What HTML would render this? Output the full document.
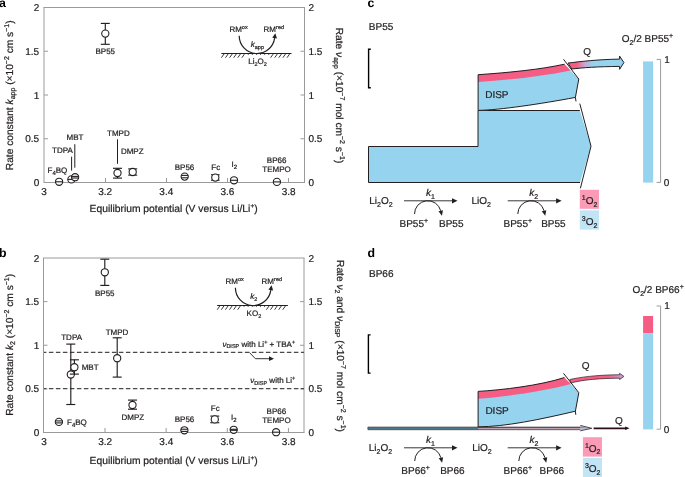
<!DOCTYPE html>
<html><head><meta charset="utf-8"><style>
html,body{margin:0;padding:0;background:#fff;overflow:hidden}
svg{display:block;will-change:transform}
text{stroke:#231f20;stroke-width:0.22px;text-rendering:geometricPrecision}
</style></head><body>
<svg width="685" height="477" viewBox="0 0 685 477" font-family="Liberation Sans">
<rect width="685" height="477" fill="#fff"/>
<line x1="44" y1="7.5" x2="44" y2="182.5" stroke="#9a9a9a" stroke-width="1"/>
<line x1="43.5" y1="7.5" x2="305.0" y2="7.5" stroke="#9a9a9a" stroke-width="1"/>
<line x1="43.5" y1="182.5" x2="305.0" y2="182.5" stroke="#9a9a9a" stroke-width="1"/>
<line x1="304.5" y1="7.5" x2="304.5" y2="182.5" stroke="#9a9a9a" stroke-width="1"/>
<line x1="105.50" y1="182.5" x2="105.50" y2="178.0" stroke="#9a9a9a" stroke-width="1"/>
<text x="105.15" y="194.6" font-size="10" text-anchor="middle" fill="#231f20" >3.2</text>
<line x1="166.50" y1="182.5" x2="166.50" y2="178.0" stroke="#9a9a9a" stroke-width="1"/>
<text x="166.30" y="194.6" font-size="10" text-anchor="middle" fill="#231f20" >3.4</text>
<line x1="227.50" y1="182.5" x2="227.50" y2="178.0" stroke="#9a9a9a" stroke-width="1"/>
<text x="227.45" y="194.6" font-size="10" text-anchor="middle" fill="#231f20" >3.6</text>
<line x1="288.50" y1="182.5" x2="288.50" y2="178.0" stroke="#9a9a9a" stroke-width="1"/>
<text x="288.60" y="194.6" font-size="10" text-anchor="middle" fill="#231f20" >3.8</text>
<text x="44.00" y="194.6" font-size="10" text-anchor="middle" fill="#231f20" >3</text>
<text x="39.2" y="186.10" font-size="10" text-anchor="end" fill="#231f20" >0</text>
<text x="308.5" y="186.10" font-size="10" fill="#231f20" >0</text>
<line x1="44" y1="138.75" x2="48" y2="138.75" stroke="#9a9a9a" stroke-width="1"/>
<line x1="304.5" y1="138.75" x2="300.5" y2="138.75" stroke="#9a9a9a" stroke-width="1"/>
<text x="39.2" y="142.35" font-size="10" text-anchor="end" fill="#231f20" >0.5</text>
<text x="308.5" y="142.35" font-size="10" fill="#231f20" >0.5</text>
<line x1="44" y1="95.00" x2="48" y2="95.00" stroke="#9a9a9a" stroke-width="1"/>
<line x1="304.5" y1="95.00" x2="300.5" y2="95.00" stroke="#9a9a9a" stroke-width="1"/>
<text x="39.2" y="98.60" font-size="10" text-anchor="end" fill="#231f20" >1</text>
<text x="308.5" y="98.60" font-size="10" fill="#231f20" >1</text>
<line x1="44" y1="51.25" x2="48" y2="51.25" stroke="#9a9a9a" stroke-width="1"/>
<line x1="304.5" y1="51.25" x2="300.5" y2="51.25" stroke="#9a9a9a" stroke-width="1"/>
<text x="39.2" y="54.85" font-size="10" text-anchor="end" fill="#231f20" >1.5</text>
<text x="308.5" y="54.85" font-size="10" fill="#231f20" >1.5</text>
<text x="39.2" y="11.10" font-size="10" text-anchor="end" fill="#231f20" >2</text>
<text x="308.5" y="11.10" font-size="10" fill="#231f20" >2</text>
<text x="-0.9" y="6.9" font-size="12.3" font-weight="bold" fill="#000" style="stroke:none">a</text>
<line x1="105.30" y1="23.40" x2="105.30" y2="44.30" stroke="#231f20" stroke-width="1.15"/><line x1="100.80" y1="23.40" x2="109.80" y2="23.40" stroke="#231f20" stroke-width="1.15"/><line x1="100.80" y1="44.30" x2="109.80" y2="44.30" stroke="#231f20" stroke-width="1.15"/><circle cx="105.30" cy="33.60" r="3.6" fill="#fff" stroke="#231f20" stroke-width="1.1"/>
<text x="105.3" y="54.2" font-size="8" text-anchor="middle" fill="#231f20" >BP55</text>
<circle cx="59.10" cy="181.80" r="3.6" fill="#fff" stroke="#231f20" stroke-width="1.1"/><line x1="55.50" y1="181.80" x2="62.70" y2="181.80" stroke="#231f20" stroke-width="1.1"/>
<circle cx="71.40" cy="179.40" r="3.6" fill="#fff" stroke="#231f20" stroke-width="1.1"/><line x1="67.80" y1="179.40" x2="75.00" y2="179.40" stroke="#231f20" stroke-width="1.1"/>
<circle cx="75.10" cy="177.20" r="3.6" fill="#fff" stroke="#231f20" stroke-width="1.1"/><line x1="71.59" y1="176.40" x2="78.61" y2="176.40" stroke="#231f20" stroke-width="1.1"/><line x1="71.59" y1="178.00" x2="78.61" y2="178.00" stroke="#231f20" stroke-width="1.1"/>
<line x1="117.50" y1="168.30" x2="117.50" y2="178.10" stroke="#231f20" stroke-width="1.15"/><line x1="113.00" y1="168.30" x2="122.00" y2="168.30" stroke="#231f20" stroke-width="1.15"/><line x1="113.00" y1="178.10" x2="122.00" y2="178.10" stroke="#231f20" stroke-width="1.15"/><circle cx="117.50" cy="173.00" r="3.6" fill="#fff" stroke="#231f20" stroke-width="1.1"/>
<line x1="132.70" y1="168.90" x2="132.70" y2="175.10" stroke="#231f20" stroke-width="1.15"/><line x1="128.20" y1="168.90" x2="137.20" y2="168.90" stroke="#231f20" stroke-width="1.15"/><line x1="128.20" y1="175.10" x2="137.20" y2="175.10" stroke="#231f20" stroke-width="1.15"/><circle cx="132.70" cy="172.00" r="3.6" fill="#fff" stroke="#231f20" stroke-width="1.1"/>
<circle cx="184.70" cy="176.60" r="3.6" fill="#fff" stroke="#231f20" stroke-width="1.1"/><line x1="181.31" y1="175.40" x2="188.09" y2="175.40" stroke="#231f20" stroke-width="1.1"/><line x1="181.31" y1="177.80" x2="188.09" y2="177.80" stroke="#231f20" stroke-width="1.1"/>
<line x1="215.30" y1="174.80" x2="215.30" y2="180.20" stroke="#231f20" stroke-width="1.15"/><line x1="211.00" y1="174.80" x2="219.60" y2="174.80" stroke="#231f20" stroke-width="1.15"/><line x1="211.00" y1="180.20" x2="219.60" y2="180.20" stroke="#231f20" stroke-width="1.15"/><circle cx="215.30" cy="177.60" r="3.6" fill="#fff" stroke="#231f20" stroke-width="1.1"/>
<circle cx="234.00" cy="180.30" r="3.6" fill="#fff" stroke="#231f20" stroke-width="1.1"/><line x1="230.40" y1="180.30" x2="237.60" y2="180.30" stroke="#231f20" stroke-width="1.1"/>
<circle cx="276.90" cy="181.90" r="3.6" fill="#fff" stroke="#231f20" stroke-width="1.1"/><line x1="273.30" y1="181.90" x2="280.50" y2="181.90" stroke="#231f20" stroke-width="1.1"/>
<text x="47.5" y="172.8" font-size="8" fill="#231f20" >F<tspan font-size="6" dy="2">4</tspan><tspan dy="-2">BQ</tspan></text>
<text x="52.0" y="153.4" font-size="8" fill="#231f20" >TDPA</text>
<text x="66.5" y="140.1" font-size="8" fill="#231f20" >MBT</text>
<line x1="71.6" y1="156.7" x2="71.6" y2="170.6" stroke="#231f20" stroke-width="1"/>
<line x1="74.8" y1="144.2" x2="74.8" y2="167.7" stroke="#231f20" stroke-width="1"/>
<text x="107" y="135.6" font-size="8" fill="#231f20" >TMPD</text>
<line x1="117.5" y1="139.3" x2="117.5" y2="163.8" stroke="#231f20" stroke-width="1"/>
<text x="120.9" y="154.3" font-size="8" fill="#231f20" >DMPZ</text>
<text x="184.5" y="169.6" font-size="8" text-anchor="middle" fill="#231f20" >BP56</text>
<text x="215.7" y="169.6" font-size="8" text-anchor="middle" fill="#231f20" >Fc</text>
<text x="231.6" y="167.2" font-size="8" fill="#231f20" >I<tspan font-size="6" dy="2">2</tspan></text>
<text x="276.6" y="162.8" font-size="8" text-anchor="middle" fill="#231f20" >BP66</text>
<text x="276.6" y="172.0" font-size="8" text-anchor="middle" fill="#231f20" >TEMPO</text>
<text x="173.6" y="211.7" font-size="10.3" text-anchor="middle" fill="#231f20" >Equilibrium potential (V versus Li/Li<tspan font-size="6.5" dy="-4">+</tspan><tspan dy="4">)</tspan></text>
<g transform="translate(13.3,95.3) rotate(-90)">
<text x="0" y="0" font-size="10.2" text-anchor="middle" fill="#231f20" >Rate constant <tspan font-style="italic">k</tspan><tspan font-size="7" dy="2">app</tspan><tspan dy="-2"> (×10</tspan><tspan font-size="7" dy="-4">−2</tspan><tspan dy="4"> cm s</tspan><tspan font-size="7" dy="-4">−1</tspan><tspan dy="4">)</tspan></text>
</g>
<g transform="translate(335.9,95.5) rotate(90)">
<text x="0" y="0" font-size="10.2" text-anchor="middle" fill="#231f20" >Rate <tspan font-style="italic">ν</tspan><tspan font-size="7" dy="2">app</tspan><tspan dy="-2"> (×10</tspan><tspan font-size="7" dy="-4">−7</tspan><tspan dy="4"> mol cm</tspan><tspan font-size="7" dy="-4">−2</tspan><tspan dy="4"> s</tspan><tspan font-size="7" dy="-4">−1</tspan><tspan dy="4">)</tspan></text>
</g>
<text x="229.4" y="31.9" font-size="8" fill="#231f20" >RM<tspan font-size="5.5" dy="-3">ox</tspan></text>
<text x="263.6" y="31.9" font-size="8" fill="#231f20" >RM<tspan font-size="5.5" dy="-3">red</tspan></text>
<path d="M239.20,35.70 A17.8,17.8 0 0 0 274.63,38.18" fill="none" stroke="#231f20" stroke-width="1.2"/>
<path d="M277.00,38.51 L275.32,33.23 L272.25,37.84 Z" fill="#231f20"/>
<line x1="221.4" y1="53.5" x2="291.5" y2="53.5" stroke="#231f20" stroke-width="1"/>
<path d="M224.00,54.00 L221.40,57.70 M228.10,54.00 L225.50,57.70 M232.20,54.00 L229.60,57.70 M236.30,54.00 L233.70,57.70 M240.40,54.00 L237.80,57.70 M244.50,54.00 L241.90,57.70 M248.60,54.00 L246.00,57.70 M252.70,54.00 L250.10,57.70 M256.80,54.00 L254.20,57.70 M260.90,54.00 L258.30,57.70 M265.00,54.00 L262.40,57.70 M269.10,54.00 L266.50,57.70 M273.20,54.00 L270.60,57.70 M277.30,54.00 L274.70,57.70 M281.40,54.00 L278.80,57.70 M285.50,54.00 L282.90,57.70 M289.60,54.00 L287.00,57.70 " stroke="#231f20" stroke-width="0.9" fill="none"/>
<rect x="244" y="54.8" width="26" height="4" fill="#fff"/>
<text x="250.8" y="46.7" font-size="8" fill="#231f20"><tspan font-style="italic">k</tspan><tspan font-size="5.5" dy="1.8">app</tspan></text>
<text x="248.3" y="64" font-size="8" fill="#231f20">Li<tspan font-size="5.5" dy="1.8">2</tspan><tspan dy="-1.8">O</tspan><tspan font-size="5.5" dy="1.8">2</tspan></text>
<line x1="43.5" y1="258.0" x2="43.5" y2="432.5" stroke="#9a9a9a" stroke-width="1"/>
<line x1="43.0" y1="258.0" x2="304.5" y2="258.0" stroke="#9a9a9a" stroke-width="1"/>
<line x1="43.0" y1="432.5" x2="304.5" y2="432.5" stroke="#9a9a9a" stroke-width="1"/>
<line x1="304.0" y1="258.0" x2="304.0" y2="432.5" stroke="#9a9a9a" stroke-width="1"/>
<line x1="105.00" y1="432.5" x2="105.00" y2="428.0" stroke="#9a9a9a" stroke-width="1"/>
<text x="105.15" y="444.6" font-size="10" text-anchor="middle" fill="#231f20" >3.2</text>
<line x1="166.15" y1="432.5" x2="166.15" y2="428.0" stroke="#9a9a9a" stroke-width="1"/>
<text x="166.30" y="444.6" font-size="10" text-anchor="middle" fill="#231f20" >3.4</text>
<line x1="227.30" y1="432.5" x2="227.30" y2="428.0" stroke="#9a9a9a" stroke-width="1"/>
<text x="227.45" y="444.6" font-size="10" text-anchor="middle" fill="#231f20" >3.6</text>
<line x1="288.45" y1="432.5" x2="288.45" y2="428.0" stroke="#9a9a9a" stroke-width="1"/>
<text x="288.60" y="444.6" font-size="10" text-anchor="middle" fill="#231f20" >3.8</text>
<text x="44.00" y="444.6" font-size="10" text-anchor="middle" fill="#231f20" >3</text>
<text x="39.2" y="436.10" font-size="10" text-anchor="end" fill="#231f20" >0</text>
<text x="308.5" y="436.10" font-size="10" fill="#231f20" >0</text>
<line x1="43.5" y1="388.88" x2="47.5" y2="388.88" stroke="#9a9a9a" stroke-width="1"/>
<line x1="304.0" y1="388.88" x2="300.0" y2="388.88" stroke="#9a9a9a" stroke-width="1"/>
<text x="39.2" y="392.48" font-size="10" text-anchor="end" fill="#231f20" >0.5</text>
<text x="308.5" y="392.48" font-size="10" fill="#231f20" >0.5</text>
<line x1="43.5" y1="345.25" x2="47.5" y2="345.25" stroke="#9a9a9a" stroke-width="1"/>
<line x1="304.0" y1="345.25" x2="300.0" y2="345.25" stroke="#9a9a9a" stroke-width="1"/>
<text x="39.2" y="348.85" font-size="10" text-anchor="end" fill="#231f20" >1</text>
<text x="308.5" y="348.85" font-size="10" fill="#231f20" >1</text>
<line x1="43.5" y1="301.62" x2="47.5" y2="301.62" stroke="#9a9a9a" stroke-width="1"/>
<line x1="304.0" y1="301.62" x2="300.0" y2="301.62" stroke="#9a9a9a" stroke-width="1"/>
<text x="39.2" y="305.23" font-size="10" text-anchor="end" fill="#231f20" >1.5</text>
<text x="308.5" y="305.23" font-size="10" fill="#231f20" >1.5</text>
<text x="39.2" y="261.60" font-size="10" text-anchor="end" fill="#231f20" >2</text>
<text x="308.5" y="261.60" font-size="10" fill="#231f20" >2</text>
<text x="-0.9" y="256.9" font-size="12.3" font-weight="bold" fill="#000" style="stroke:none">b</text>
<line x1="44" y1="352.4" x2="304" y2="352.4" stroke="#4a4a4a" stroke-width="1.2" stroke-dasharray="4.5 2.5" stroke-dashoffset="2.1"/>
<line x1="44" y1="388.6" x2="304" y2="388.6" stroke="#4a4a4a" stroke-width="1.2" stroke-dasharray="4.5 2.5" stroke-dashoffset="2.1"/>
<line x1="104.80" y1="259.20" x2="104.80" y2="285.40" stroke="#231f20" stroke-width="1.15"/><line x1="100.30" y1="259.20" x2="109.30" y2="259.20" stroke="#231f20" stroke-width="1.15"/><line x1="100.30" y1="285.40" x2="109.30" y2="285.40" stroke="#231f20" stroke-width="1.15"/><circle cx="104.80" cy="272.30" r="3.6" fill="#fff" stroke="#231f20" stroke-width="1.1"/>
<text x="104.8" y="296.0" font-size="8" text-anchor="middle" fill="#231f20" >BP55</text>
<line x1="70.80" y1="344.10" x2="70.80" y2="404.50" stroke="#231f20" stroke-width="1.15"/><line x1="66.30" y1="344.10" x2="75.30" y2="344.10" stroke="#231f20" stroke-width="1.15"/><line x1="66.30" y1="404.50" x2="75.30" y2="404.50" stroke="#231f20" stroke-width="1.15"/><circle cx="70.80" cy="374.50" r="3.6" fill="#fff" stroke="#231f20" stroke-width="1.1"/>
<line x1="74.40" y1="359.80" x2="74.40" y2="374.10" stroke="#231f20" stroke-width="1.15"/><line x1="69.90" y1="359.80" x2="78.90" y2="359.80" stroke="#231f20" stroke-width="1.15"/><line x1="69.90" y1="374.10" x2="78.90" y2="374.10" stroke="#231f20" stroke-width="1.15"/><circle cx="74.40" cy="367.20" r="3.6" fill="#fff" stroke="#231f20" stroke-width="1.1"/>
<text x="71.6" y="340.3" font-size="8" text-anchor="middle" fill="#231f20" >TDPA</text>
<text x="81.7" y="370.3" font-size="8" fill="#231f20" >MBT</text>
<line x1="117.20" y1="337.80" x2="117.20" y2="377.10" stroke="#231f20" stroke-width="1.15"/><line x1="112.70" y1="337.80" x2="121.70" y2="337.80" stroke="#231f20" stroke-width="1.15"/><line x1="112.70" y1="377.10" x2="121.70" y2="377.10" stroke="#231f20" stroke-width="1.15"/><circle cx="117.20" cy="358.20" r="3.6" fill="#fff" stroke="#231f20" stroke-width="1.1"/>
<text x="117.0" y="334.7" font-size="8" text-anchor="middle" fill="#231f20" >TMPD</text>
<line x1="132.50" y1="400.10" x2="132.50" y2="409.20" stroke="#231f20" stroke-width="1.15"/><line x1="128.00" y1="400.10" x2="137.00" y2="400.10" stroke="#231f20" stroke-width="1.15"/><line x1="128.00" y1="409.20" x2="137.00" y2="409.20" stroke="#231f20" stroke-width="1.15"/><circle cx="132.50" cy="405.00" r="3.6" fill="#fff" stroke="#231f20" stroke-width="1.1"/>
<text x="132.8" y="420.3" font-size="8" text-anchor="middle" fill="#231f20" >DMPZ</text>
<circle cx="58.90" cy="421.90" r="3.6" fill="#fff" stroke="#231f20" stroke-width="1.1"/><line x1="55.44" y1="420.90" x2="62.36" y2="420.90" stroke="#231f20" stroke-width="1.1"/><line x1="55.44" y1="422.90" x2="62.36" y2="422.90" stroke="#231f20" stroke-width="1.1"/>
<text x="67" y="424.5" font-size="8" fill="#231f20" >F<tspan font-size="6" dy="2">4</tspan><tspan dy="-2">BQ</tspan></text>
<circle cx="184.40" cy="430.30" r="3.6" fill="#fff" stroke="#231f20" stroke-width="1.1"/><line x1="180.97" y1="429.20" x2="187.83" y2="429.20" stroke="#231f20" stroke-width="1.1"/><line x1="180.97" y1="431.40" x2="187.83" y2="431.40" stroke="#231f20" stroke-width="1.1"/>
<text x="184.5" y="422.0" font-size="8" text-anchor="middle" fill="#231f20" >BP56</text>
<line x1="214.80" y1="416.10" x2="214.80" y2="422.70" stroke="#231f20" stroke-width="1.15"/><line x1="210.30" y1="416.10" x2="219.30" y2="416.10" stroke="#231f20" stroke-width="1.15"/><line x1="210.30" y1="422.70" x2="219.30" y2="422.70" stroke="#231f20" stroke-width="1.15"/><circle cx="214.80" cy="419.40" r="3.6" fill="#fff" stroke="#231f20" stroke-width="1.1"/>
<text x="215.2" y="410.7" font-size="8" text-anchor="middle" fill="#231f20" >Fc</text>
<circle cx="233.70" cy="429.80" r="3.6" fill="#fff" stroke="#231f20" stroke-width="1.1"/><line x1="230.13" y1="429.30" x2="237.27" y2="429.30" stroke="#231f20" stroke-width="1.1"/><line x1="230.13" y1="430.30" x2="237.27" y2="430.30" stroke="#231f20" stroke-width="1.1"/>
<text x="231.0" y="420.2" font-size="8" fill="#231f20" >I<tspan font-size="6" dy="2">2</tspan></text>
<circle cx="276.10" cy="432.20" r="3.6" fill="#fff" stroke="#231f20" stroke-width="1.1"/><line x1="272.50" y1="432.20" x2="279.70" y2="432.20" stroke="#231f20" stroke-width="1.1"/>
<text x="276.4" y="413.8" font-size="8" text-anchor="middle" fill="#231f20" >BP66</text>
<text x="276.4" y="423.0" font-size="8" text-anchor="middle" fill="#231f20" >TEMPO</text>
<text x="222.4" y="346.5" font-size="8" fill="#231f20" ><tspan font-style="italic">ν</tspan><tspan font-size="5.5" dy="1.8">DISP</tspan><tspan dy="-1.8"> with Li</tspan><tspan font-size="5.5" dy="-3">+</tspan><tspan dy="3"> + TBA</tspan><tspan font-size="5.5" dy="-3">+</tspan></text>
<text x="250.3" y="383.4" font-size="8" fill="#231f20" ><tspan font-style="italic">ν</tspan><tspan font-size="5.5" dy="1.8">DISP</tspan><tspan dy="-1.8"> with Li</tspan><tspan font-size="5.5" dy="-3">+</tspan></text>
<path d="M249.6,352.7 L255.4,358.7 L270,358.7" fill="none" stroke="#231f20" stroke-width="0.9"/>
<path d="M269,356.3 L274,358.7 L269,361.1 Z" fill="#231f20"/>
<text x="225.6" y="283.9" font-size="8" fill="#231f20" >RM<tspan font-size="5.5" dy="-3">ox</tspan></text>
<text x="261.59999999999997" y="283.9" font-size="8" fill="#231f20" >RM<tspan font-size="5.5" dy="-3">red</tspan></text>
<path d="M235.40,287.70 A17.8,17.8 0 0 0 270.83,290.18" fill="none" stroke="#231f20" stroke-width="1.2"/>
<path d="M273.20,290.51 L271.52,285.23 L268.45,289.84 Z" fill="#231f20"/>
<line x1="217.2" y1="305.5" x2="287.9" y2="305.5" stroke="#231f20" stroke-width="1"/>
<path d="M219.80,306.00 L217.20,309.70 M223.90,306.00 L221.30,309.70 M228.00,306.00 L225.40,309.70 M232.10,306.00 L229.50,309.70 M236.20,306.00 L233.60,309.70 M240.30,306.00 L237.70,309.70 M244.40,306.00 L241.80,309.70 M248.50,306.00 L245.90,309.70 M252.60,306.00 L250.00,309.70 M256.70,306.00 L254.10,309.70 M260.80,306.00 L258.20,309.70 M264.90,306.00 L262.30,309.70 M269.00,306.00 L266.40,309.70 M273.10,306.00 L270.50,309.70 M277.20,306.00 L274.60,309.70 M281.30,306.00 L278.70,309.70 M285.40,306.00 L282.80,309.70 " stroke="#231f20" stroke-width="0.9" fill="none"/>
<rect x="241" y="306.8" width="25" height="4" fill="#fff"/>
<text x="250.3" y="299.1" font-size="8" fill="#231f20"><tspan font-style="italic">k</tspan><tspan font-size="5.5" dy="1.8">2</tspan></text>
<text x="246.6" y="315.9" font-size="8" fill="#231f20">KO<tspan font-size="5.5" dy="1.8">2</tspan></text>
<text x="173.6" y="463.8" font-size="10.3" text-anchor="middle" fill="#231f20" >Equilibrium potential (V versus Li/Li<tspan font-size="6.5" dy="-4">+</tspan><tspan dy="4">)</tspan></text>
<g transform="translate(13.1,344.8) rotate(-90)">
<text x="0" y="0" font-size="10.2" text-anchor="middle" fill="#231f20" >Rate constant <tspan font-style="italic">k</tspan><tspan font-size="7" dy="2">2</tspan><tspan dy="-2"> (×10</tspan><tspan font-size="7" dy="-4">−2</tspan><tspan dy="4"> cm s</tspan><tspan font-size="7" dy="-4">−1</tspan><tspan dy="4">)</tspan></text>
</g>
<g transform="translate(336.7,346) rotate(90)">
<text x="0" y="0" font-size="10.2" text-anchor="middle" fill="#231f20" >Rate <tspan font-style="italic">ν</tspan><tspan font-size="7" dy="2">2</tspan><tspan dy="-2"> and </tspan><tspan font-style="italic">ν</tspan><tspan font-size="7" dy="2">DISP</tspan><tspan dy="-2"> (×10</tspan><tspan font-size="7" dy="-4">−7</tspan><tspan dy="4"> mol cm</tspan><tspan font-size="7" dy="-4">−2</tspan><tspan dy="4"> s</tspan><tspan font-size="7" dy="-4">−1</tspan><tspan dy="4">)</tspan></text>
</g>
<text x="367.5" y="6.9" font-size="12.3" font-weight="bold" fill="#000" style="stroke:none">c</text>
<text x="368.8" y="29.8" font-size="10" fill="#231f20" >BP55</text>
<path d="M370.8,49.3 L368.6,49.3 L368.6,87.8 L370.8,87.8" fill="none" stroke="#000" stroke-width="1.4"/>
<path d="M368.5,146.5 L478,146.5 L478,110.5 L579.8,110.5 L591,146.2 L580,182.5 L368.5,182.5 Z" fill="#96d3ee" stroke="none"/>
<path d="M478,146.5 L368.5,146.5 L368.5,182.5 L580,182.5" fill="none" stroke="#231f20" stroke-width="1"/>
<path d="M478,146.5 L478,110.5 L579.8,110.5" fill="none" stroke="#231f20" stroke-width="1"/>
<path d="M579.8,103.6 L591,146.2 L580.4,188.3" fill="none" stroke="#231f20" stroke-width="1"/>
<defs><linearGradient id="qg" x1="568" y1="0" x2="624" y2="0" gradientUnits="userSpaceOnUse"><stop offset="0.15" stop-color="#f65d84"/><stop offset="0.30" stop-color="#c6a8d2"/><stop offset="0.46" stop-color="#96d3ee"/></linearGradient><linearGradient id="qg2" x1="568" y1="0" x2="624" y2="0" gradientUnits="userSpaceOnUse"><stop offset="0.7" stop-color="#f65d84"/><stop offset="1" stop-color="#c5a3d9"/></linearGradient></defs>
<path d="M478.1,74.7 C510,72.5 540,69.5 564.5,64.2 L578.8,79.0 L575.4,97.4 C540,104 500,110 478.1,110.4 Z" fill="#96d3ee"/>
<path d="M478.1,74.7 C510,72.5 540,69.5 564.5,64.2 L570.5,70.4 C540,76.5 510,79.8 478.1,82.0 Z" fill="#f65d84"/>
<path d="M478.1,110.4 L478.1,74.7 C510,72.5 540,69.5 564.5,64.2" fill="none" stroke="#231f20" stroke-width="1"/>
<path d="M478.1,110.4 C500,110 540,104 575.4,97.4" fill="none" stroke="#231f20" stroke-width="1"/>
<path d="M563.5,59.3 L578.8,79.0 L575.4,97.4 L576.0,101.4" fill="none" stroke="#231f20" stroke-width="1"/>
<path d="M568,63.1 C580,61.5 598,59.5 619.6,59.1 L619.6,56.1 L623.9,62.6 L619.6,69.3 L619.6,66.4 C598,66.6 582,67.7 571.9,69.0 Z" fill="url(#qg)" stroke="#231f20" stroke-width="1"/>
<text x="583.3" y="55.2" font-size="10" fill="#231f20" >Q</text>
<text x="485.2" y="98.4" font-size="10" fill="#231f20" >DISP</text>
<rect x="643.1" y="61.4" width="10" height="121.2" fill="#96d3ee"/>
<path d="M656.6,59.4 L660.6,59.4 L660.6,182.4 L656.6,182.4" fill="none" stroke="#9a9a9a" stroke-width="1"/>
<text x="664.3" y="62.6" font-size="10" fill="#231f20" >1</text>
<text x="663.8" y="185.9" font-size="10" fill="#231f20" >0</text>
<text x="621.8" y="42.3" font-size="10" fill="#231f20" >O<tspan font-size="7" dy="2.5">2</tspan><tspan dy="-2.5">/2 BP55</tspan><tspan font-size="7" dy="-4">+</tspan></text>
<rect x="579.8" y="189.8" width="19.2" height="19" fill="#fb9bb6"/>
<rect x="579.8" y="210.3" width="19.2" height="19.3" fill="#c2e5f6"/>
<text x="581.8" y="204.2" font-size="10" fill="#231f20" ><tspan font-size="7" dy="-4">1</tspan><tspan dy="4">O</tspan><tspan font-size="7" dy="2.5">2</tspan></text>
<text x="581.8" y="225.0" font-size="10" fill="#231f20" ><tspan font-size="7" dy="-4">3</tspan><tspan dy="4">O</tspan><tspan font-size="7" dy="2.5">2</tspan></text>
<text x="369.3" y="204.0" font-size="10" fill="#231f20" >Li<tspan font-size="7" dy="2.5">2</tspan><tspan dy="-2.5">O</tspan><tspan font-size="7" dy="2.5">2</tspan></text>
<text x="471.4" y="204.0" font-size="10" fill="#231f20" >LiO<tspan font-size="7" dy="2.5">2</tspan></text>
<line x1="404" y1="200.8" x2="453.5" y2="200.8" stroke="#231f20" stroke-width="0.9"/>
<path d="M452.0,198.20000000000002 L457.5,200.8 L452.0,203.4 Z" fill="#231f20"/>
<text x="426" y="196.4" font-size="10" fill="#231f20"><tspan font-style="italic">k</tspan><tspan font-size="7" dy="2.5">1</tspan></text>
<path d="M414.50,214.00 A13.3,13.3 0 0 1 440.70,210.78" fill="none" stroke="#231f20" stroke-width="1"/>
<path d="M438.47,211.34 L441.91,215.63 L442.94,210.23 Z" fill="#231f20"/>
<text x="399.5" y="227.1" font-size="10" fill="#231f20" >BP55<tspan font-size="7" dy="-4">+</tspan></text>
<text x="439.0" y="227.1" font-size="10" fill="#231f20" >BP55</text>
<line x1="507.7" y1="200.8" x2="557.6" y2="200.8" stroke="#231f20" stroke-width="0.9"/>
<path d="M556.1,198.20000000000002 L561.6,200.8 L556.1,203.4 Z" fill="#231f20"/>
<text x="529.2" y="196.4" font-size="10" fill="#231f20"><tspan font-style="italic">k</tspan><tspan font-size="7" dy="2.5">2</tspan></text>
<path d="M517.80,214.00 A13.3,13.3 0 0 1 544.00,210.78" fill="none" stroke="#231f20" stroke-width="1"/>
<path d="M541.77,211.34 L545.21,215.63 L546.24,210.23 Z" fill="#231f20"/>
<text x="503.5" y="227.1" font-size="10" fill="#231f20" >BP55<tspan font-size="7" dy="-4">+</tspan></text>
<text x="541.2" y="227.1" font-size="10" fill="#231f20" >BP55</text>
<text x="367.5" y="256.9" font-size="12.3" font-weight="bold" fill="#000" style="stroke:none">d</text>
<text x="369.0" y="276.9" font-size="10" fill="#231f20" >BP66</text>
<path d="M370.6,334.9 L368.4,334.9 L368.4,373.1 L370.6,373.1" fill="none" stroke="#000" stroke-width="1.4"/>
<rect x="367.9" y="427.1" width="110.2" height="2.6" fill="#4f7a8e"/>
<rect x="478" y="427.1" width="102.5" height="1.3" fill="#a8365c"/>
<rect x="478" y="428.4" width="102.5" height="1.3" fill="#a497a8"/>
<path d="M580.3,425.7 L591.8,428.3 L580.3,430.5 Z" fill="#c9b3c8"/>
<path d="M580.3,426.6 L588,428.3 L580.3,428.3 Z" fill="#f65d84"/>
<path d="M580.3,428.3 L588,428.3 L580.3,429.8 Z" fill="#96d3ee"/>
<path d="M367.9,427.1 L580.3,427.1 M367.9,429.7 L580.3,429.7" stroke="#333" stroke-width="0.7" fill="none"/>
<path d="M367.9,427.1 L367.9,429.7" stroke="#333" stroke-width="0.7" fill="none"/>
<path d="M580.3,425.4 L591.8,428.3 L580.3,430.8" stroke="#222" stroke-width="0.8" fill="none"/>
<line x1="593.6" y1="428.3" x2="626.5" y2="428.3" stroke="#2a0d16" stroke-width="1.7"/>
<path d="M625.2,426.6 L629.6,428.3 L625.2,430.0 Z" fill="#2a0d16"/>
<text x="614.9" y="423.7" font-size="10" fill="#231f20" >Q</text>
<path d="M478.1,391.4 C502,390 540,385.5 564.3,377.6 L578.8,392.7 L575.4,411.2 C540,419.5 505,426.8 478.1,426.8 Z" fill="#96d3ee"/>
<path d="M478.1,391.4 C502,390 540,385.5 564.3,377.6 L570.8,384.0 C545,391 505,397 478.1,398.7 Z" fill="#f65d84"/>
<path d="M478.1,427.0 L478.1,391.4 C502,390 540,385.5 564.3,377.6" fill="none" stroke="#231f20" stroke-width="1"/>
<path d="M478.1,426.8 C505,426.8 540,419.5 575.4,411.2" fill="none" stroke="#231f20" stroke-width="1"/>
<path d="M563.5,373.3 L578.8,392.7 L575.4,411.2 L575.8,414.8" fill="none" stroke="#231f20" stroke-width="1"/>
<path d="M569.8,379.5 C580,377.3 595,375 619.6,374.7 L619.6,373.3 L623.9,376.4 L619.6,379.6 L619.6,378.2 C595,378.4 581,380.3 570.8,383.0 Z" fill="url(#qg2)" stroke="#231f20" stroke-width="0.7"/>
<text x="581.8" y="369.2" font-size="10" fill="#231f20" >Q</text>
<text x="485.4" y="414.4" font-size="10" fill="#231f20" >DISP</text>
<rect x="643.1" y="316" width="10" height="17.4" fill="#f65d84"/>
<rect x="643.1" y="333.4" width="10" height="96" fill="#96d3ee"/>
<path d="M656.6,306 L660.6,306 L660.6,429.2 L656.6,429.2" fill="none" stroke="#9a9a9a" stroke-width="1"/>
<text x="664.3" y="309.4" font-size="10" fill="#231f20" >1</text>
<text x="663.8" y="432.7" font-size="10" fill="#231f20" >0</text>
<text x="632.4" y="293.2" font-size="10" fill="#231f20" >O<tspan font-size="7" dy="2.5">2</tspan><tspan dy="-2.5">/2 BP66</tspan><tspan font-size="7" dy="-4">+</tspan></text>
<rect x="582.9" y="437.2" width="19.1" height="19.4" fill="#fb9bb6"/>
<rect x="582.9" y="457.9" width="19.1" height="19.1" fill="#c2e5f6"/>
<text x="584.9" y="451.6" font-size="10" fill="#231f20" ><tspan font-size="7" dy="-4">1</tspan><tspan dy="4">O</tspan><tspan font-size="7" dy="2.5">2</tspan></text>
<text x="584.9" y="472.4" font-size="10" fill="#231f20" ><tspan font-size="7" dy="-4">3</tspan><tspan dy="4">O</tspan><tspan font-size="7" dy="2.5">2</tspan></text>
<text x="368.8" y="451.0" font-size="10" fill="#231f20" >Li<tspan font-size="7" dy="2.5">2</tspan><tspan dy="-2.5">O</tspan><tspan font-size="7" dy="2.5">2</tspan></text>
<text x="472.2" y="451.0" font-size="10" fill="#231f20" >LiO<tspan font-size="7" dy="2.5">2</tspan></text>
<line x1="404" y1="447.8" x2="453.5" y2="447.8" stroke="#231f20" stroke-width="0.9"/>
<path d="M452.0,445.2 L457.5,447.8 L452.0,450.40000000000003 Z" fill="#231f20"/>
<text x="426" y="443.4" font-size="10" fill="#231f20"><tspan font-style="italic">k</tspan><tspan font-size="7" dy="2.5">1</tspan></text>
<path d="M414.70,461.00 A13.3,13.3 0 0 1 440.90,457.78" fill="none" stroke="#231f20" stroke-width="1"/>
<path d="M438.67,458.34 L442.11,462.63 L443.14,457.23 Z" fill="#231f20"/>
<text x="401.3" y="474.1" font-size="10" fill="#231f20" >BP66<tspan font-size="7" dy="-4">+</tspan></text>
<text x="440.2" y="474.1" font-size="10" fill="#231f20" >BP66</text>
<line x1="507.7" y1="447.8" x2="557.6" y2="447.8" stroke="#231f20" stroke-width="0.9"/>
<path d="M556.1,445.2 L561.6,447.8 L556.1,450.40000000000003 Z" fill="#231f20"/>
<text x="529.6" y="443.4" font-size="10" fill="#231f20"><tspan font-style="italic">k</tspan><tspan font-size="7" dy="2.5">2</tspan></text>
<path d="M518.80,461.00 A13.3,13.3 0 0 1 545.00,457.78" fill="none" stroke="#231f20" stroke-width="1"/>
<path d="M542.77,458.34 L546.21,462.63 L547.24,457.23 Z" fill="#231f20"/>
<text x="503.6" y="474.1" font-size="10" fill="#231f20" >BP66<tspan font-size="7" dy="-4">+</tspan></text>
<text x="539.6" y="474.1" font-size="10" fill="#231f20" >BP66</text>
</svg>
</body></html>
